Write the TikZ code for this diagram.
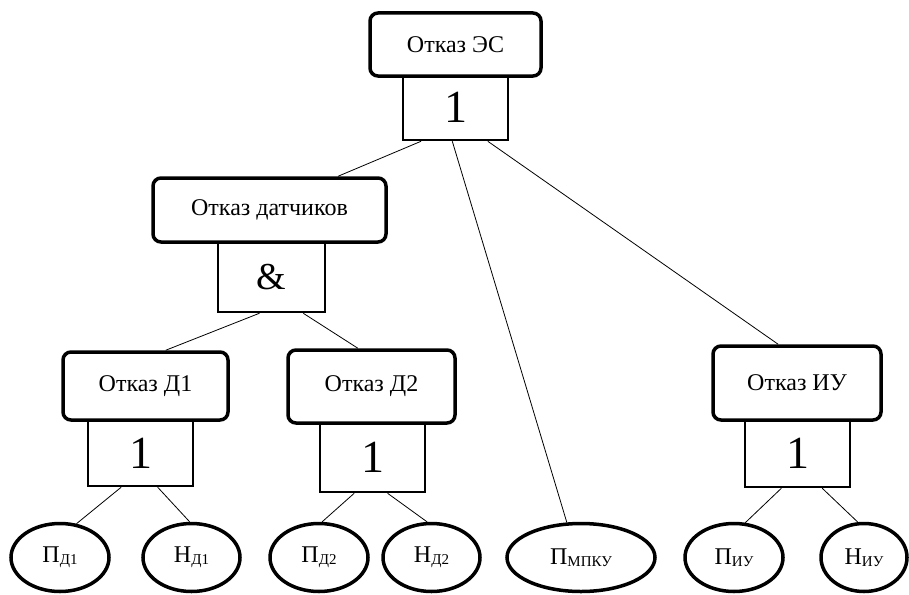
\documentclass[tikz,border=0pt]{standalone}
\usepackage{fontspec}
\setmainfont{Liberation Serif}
\usetikzlibrary{calc,shapes.geometric}
\newcommand\lsub[1]{\raisebox{-2pt}{\fontsize{15}{15}\selectfont #1}}
\begin{document}
\begin{tikzpicture}[x=1pt,y=-1pt,
 rbox/.style={draw,line width=3.5pt,rounded corners=8pt,fill=white,inner sep=0pt,font=\fontsize{24}{24}\selectfont},
 gate/.style={draw,line width=2.5pt,inner sep=0pt,fill=white,font=\fontsize{46}{46}\selectfont},
 leaf/.style={draw,ellipse,line width=3.5pt,inner sep=0pt,minimum height=68pt,font=\fontsize{24}{24}\selectfont},
 conn/.style={line width=0.8pt}]
\useasboundingbox (0,0) rectangle (909,594);
% gates
\node[gate,minimum width=105pt,minimum height=65pt] (g1) at (455.5,107.5) {1};
\node[gate,minimum width=107pt,minimum height=70pt,font=\fontsize{38}{38}\selectfont] (gA) at (271.5,277) {\&};
\node[gate,minimum width=105pt,minimum height=66pt] (gd1) at (140.5,453) {1};
\node[gate,minimum width=105pt,minimum height=69pt] (gd2) at (372.5,457.5) {1};
\node[gate,minimum width=105pt,minimum height=67pt] (giu) at (797.5,453.5) {1};
% rounded boxes
\node[rbox,minimum width=171pt,minimum height=63pt] (es) at (455.5,44.5) {Отказ ЭС};
\node[rbox,minimum width=233pt,minimum height=64pt] (dat) at (269.5,210) {Отказ датчиков};
\node[rbox,minimum width=165pt,minimum height=68pt] (d1) at (145.5,386) {Отказ Д1};
\node[rbox,minimum width=167pt,minimum height=73pt] (d2) at (371.5,386.5) {Отказ Д2};
\node[rbox,minimum width=168pt,minimum height=74pt] (iu) at (797,383) {Отказ ИУ};
% leaves
\node[leaf,minimum width=98pt] (pd1) at (60,557.5) {П\lsub{Д1}};
\node[leaf,minimum width=97pt] (nd1) at (191.5,557.5) {Н\lsub{Д1}};
\node[leaf,minimum width=98pt] (pd2) at (319,557.5) {П\lsub{Д2}};
\node[leaf,minimum width=97pt] (nd2) at (431.5,557.5) {Н\lsub{Д2}};
\node[leaf,minimum width=148pt] (pm) at (581,557.5) {П\lsub{МПКУ}};
\node[leaf,minimum width=98pt] (piu) at (734,557.5) {П\lsub{ИУ}};
\node[leaf,minimum width=86pt] (niu) at (864,557.5) {Н\lsub{ИУ}};
% connectors
\draw[conn] ($(g1.south west)!0.18!(g1.south east)$) -- ($(dat.north west)!0.79!(dat.north east)$);
\draw[conn] ($(g1.south west)!0.47!(g1.south east)$) -- (pm.112);
\draw[conn] ($(g1.south west)!0.80!(g1.south east)$) -- ($(iu.north west)!0.39!(iu.north east)$);
\draw[conn] ($(gA.south west)!0.39!(gA.south east)$) -- ($(d1.north west)!0.62!(d1.north east)$);
\draw[conn] ($(gA.south west)!0.79!(gA.south east)$) -- ($(d2.north west)!0.42!(d2.north east)$);
\draw[conn] ($(gd1.south west)!0.32!(gd1.south east)$) -- (pd1.64);
\draw[conn] ($(gd1.south west)!0.66!(gd1.south east)$) -- (nd1.93);
\draw[conn] ($(gd2.south west)!0.33!(gd2.south east)$) -- (pd2.85);
\draw[conn] ($(gd2.south west)!0.64!(gd2.south east)$) -- (nd2.97);
\draw[conn] ($(giu.south west)!0.35!(giu.south east)$) -- (piu.72);
\draw[conn] ($(giu.south west)!0.73!(giu.south east)$) -- (niu.100);
\end{tikzpicture}
\end{document}
